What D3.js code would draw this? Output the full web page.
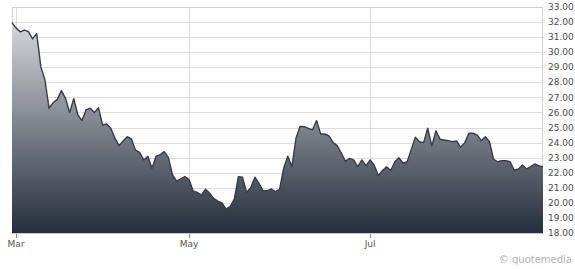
<!DOCTYPE html>
<html><head><meta charset="utf-8">
<script src="https://cdn.jsdelivr.net/npm/d3@7"></script>
<style>html,body{margin:0;padding:0;background:#fff;}svg{display:block;}</style>
</head><body>
<svg id="c" width="575" height="269"></svg>
<script>
const prices = [31.96,31.6,31.35,31.47,31.36,30.88,31.23,29.04,28.16,26.28,
26.65,26.87,27.45,26.94,25.99,26.92,25.83,25.46,26.17,26.28,
25.99,26.32,25.17,25.24,24.95,24.3,23.8,24.1,24.39,24.25,
23.5,23.35,22.85,23.1,22.3,23.1,23.2,23.4,23.0,21.85,
21.45,21.6,21.75,21.55,20.8,20.7,20.52,20.9,20.65,20.3,
20.12,20.0,19.6,19.75,20.25,21.74,21.7,20.7,21.0,21.7,
21.3,20.8,20.8,20.92,20.75,20.9,22.3,23.1,22.4,24.3,
25.08,25.06,24.95,24.85,25.46,24.57,24.57,24.45,24.0,23.8,
23.3,22.75,22.95,22.85,22.4,22.85,22.45,22.85,22.5,21.8,
22.15,22.4,22.15,22.73,23.0,22.63,22.73,23.55,24.35,24.06,
24.0,24.95,23.78,24.79,24.22,24.17,24.13,24.06,24.11,23.69,
24.0,24.62,24.62,24.51,24.13,24.39,24.06,22.89,22.73,22.8,
22.8,22.73,22.18,22.23,22.52,22.25,22.4,22.58,22.45,22.4];
const monthLabels = ["Mar","May","Jul"];
const monthIndex = [1,43,87];
const yTicks = d3.range(18,34,1);

const svg = d3.select("#c");
const L=12, R=543, T=7, B=233;
const x = d3.scaleLinear().domain([0, prices.length-1]).range([L,R]);
const y = d3.scaleLinear().domain([18,33]).range([B,T]);
const font = "'DejaVu Sans', Verdana, sans-serif";

const defs = svg.append("defs");
const g = defs.append("linearGradient").attr("id","fillg")
  .attr("gradientUnits","userSpaceOnUse").attr("x1",0).attr("x2",0).attr("y1",T).attr("y2",B);
g.append("stop").attr("offset","0%").attr("stop-color","#e2e2e3");
g.append("stop").attr("offset","100%").attr("stop-color","#252e3d");

// grid
svg.append("g").selectAll("line").data(yTicks).join("line")
  .attr("x1",L).attr("x2",R).attr("y1",d=>Math.round(y(d))+0.5).attr("y2",d=>Math.round(y(d))+0.5)
  .attr("stroke","#dcdcdc").attr("stroke-width",1);
svg.append("g").selectAll("line").data(monthIndex).join("line")
  .attr("x1",d=>Math.round(x(d))+0.5).attr("x2",d=>Math.round(x(d))+0.5).attr("y1",T).attr("y2",B)
  .attr("stroke","#dcdcdc").attr("stroke-width",1);
// frame
svg.append("rect").attr("x",L+0.5).attr("y",T+0.5).attr("width",R-L-1).attr("height",B-T)
  .attr("fill","none").attr("stroke","#d0d0d0");

// area
const area = d3.area().x((d,i)=>x(i)).y0(B).y1(d=>y(d));
svg.append("path").datum(prices).attr("d",area).attr("fill","url(#fillg)");
const line = d3.line().x((d,i)=>x(i)).y(d=>y(d));
svg.append("path").datum(prices).attr("d",line).attr("fill","none")
  .attr("stroke","#353c49").attr("stroke-width",1.4).attr("stroke-linejoin","round");

// bottom axis
svg.append("line").attr("x1",L).attr("x2",R).attr("y1",B+0.5).attr("y2",B+0.5).attr("stroke","#c8c8c8");
const xa = svg.append("g");
xa.selectAll("line").data(monthIndex).join("line")
  .attr("x1",d=>Math.round(x(d))+0.5).attr("x2",d=>Math.round(x(d))+0.5)
  .attr("y1",B+1).attr("y2",B+5).attr("stroke","#888");
xa.selectAll("text").data(monthIndex).join("text")
  .attr("x",d=>x(d)).attr("y",B+14).attr("text-anchor","middle")
  .attr("font-family",font).attr("font-size","9px").attr("fill","#555")
  .text((d,i)=>monthLabels[i]);

// right axis labels
svg.append("g").selectAll("text").data(yTicks).join("text")
  .attr("x",R+5).attr("y",d=>y(d)).attr("dy","0.35em")
  .attr("font-family",font).attr("font-size","9px").attr("fill","#4a4a4a")
  .text(d=>d3.format(".2f")(d));

svg.append("text").attr("x",572).attr("y",263).attr("text-anchor","end")
  .attr("font-family",font).attr("font-size","10px").attr("fill","#b0b0b0")
  .text("© quotemedia");
</script>
</body></html>
